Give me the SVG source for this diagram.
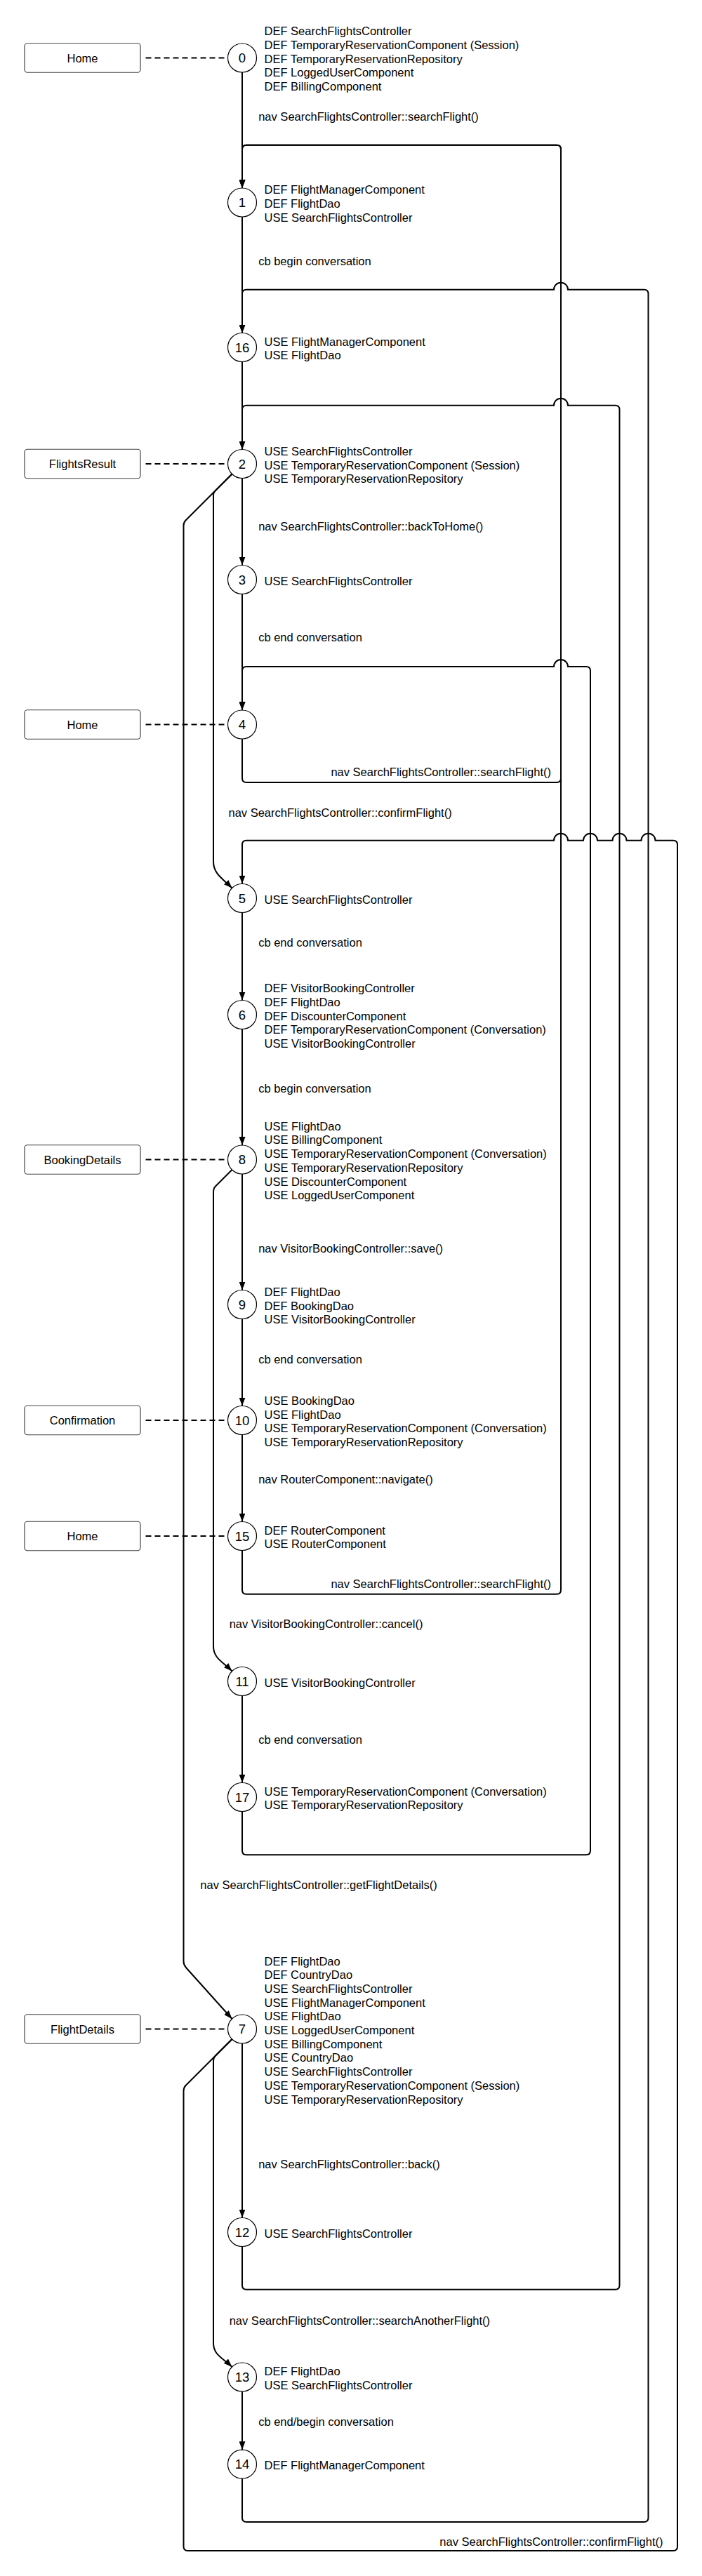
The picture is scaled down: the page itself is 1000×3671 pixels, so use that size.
<svg xmlns="http://www.w3.org/2000/svg" width="1000" height="3671" viewBox="0 0 1000 3671">
<style>
.c{fill:none;stroke:#000;stroke-width:2}
.d{fill:none;stroke:#000;stroke-width:2;stroke-dasharray:8 5}
.n circle{fill:#fff;stroke:#000;stroke-width:1.2}
.b rect{fill:#fff;stroke:#444;stroke-width:1.2}
text{font-family:"Liberation Sans",Arial,Helvetica,sans-serif;font-size:16.5px;fill:#000}
.num{font-size:18.5px;text-anchor:middle}
.bl{text-anchor:middle}
.r{text-anchor:end}
</style>
<defs>
<marker id="a" markerWidth="12" markerHeight="9" refX="12" refY="4.5" orient="auto" markerUnits="userSpaceOnUse"><path d="M0,0 L12,4.5 L0,9 z" fill="#000"/></marker>
</defs>
<rect x="0" y="0" width="1000" height="3671" fill="#fff"/>
<g id="connectors">
<g marker-end="url(#a)" class="c">
<path d="M345,103 L345,268"/>
<path d="M345,309 L345,474.5"/>
<path d="M345,515.5 L345,640.5"/>
<path d="M345,681.5 L345,805.5"/>
<path d="M345,846.5 L345,1012"/>
<path d="M345,1300.5 L345,1425.5"/>
<path d="M345,1466.5 L345,1632"/>
<path d="M345,1673 L345,1838.5"/>
<path d="M345,1879.5 L345,2003.5"/>
<path d="M345,2044.5 L345,2168.5"/>
<path d="M345,2416.5 L345,2540.5"/>
<path d="M345,2912 L345,3160.5"/>
<path d="M345,3408 L345,3491.2"/>
<path d="M345,1053 L345,1109 Q345,1115 351,1115 L793,1115 Q799,1115 799,1109 L799,212.7 Q799,206.7 793,206.7 L351,206.7 Q345,206.7 345,212.7 L345,268"/>
<path d="M345,2209.5 L345,2265.7 Q345,2271.7 351,2271.7 L793,2271.7 Q799,2271.7 799,2265.7 L799,212.7 Q799,206.7 793,206.7 L351,206.7 Q345,206.7 345,212.7 L345,268"/>
<path d="M345,3532.2 L345,3588 Q345,3594 351,3594 L917.5,3594 Q923.5,3594 923.5,3588 L923.5,418.7 Q923.5,412.7 917.5,412.7 L809,412.7 A10,10 0 0 0 789,412.7 L351,412.7 Q345,412.7 345,418.7 L345,474.5"/>
<path d="M345,3201.5 L345,3256.7 Q345,3262.7 351,3262.7 L876.5,3262.7 Q882.5,3262.7 882.5,3256.7 L882.5,583.7 Q882.5,577.7 876.5,577.7 L809,577.7 A10,10 0 0 0 789,577.7 L351,577.7 Q345,577.7 345,583.7 L345,640.5"/>
<path d="M345,2581.5 L345,2637.3 Q345,2643.3 351,2643.3 L835,2643.3 Q841,2643.3 841,2637.3 L841,956 Q841,950 835,950 L809,950 A10,10 0 0 0 789,950 L351,950 Q345,950 345,956 L345,1012"/>
<path d="M330.5,2906 L264.5,2972 Q261.5,2975 261.5,2980 L261.5,3629 Q261.5,3635 267.5,3635 L959,3635 Q965,3635 965,3629 L965,1203.7 Q965,1197.7 959,1197.7 L933.5,1197.7 A10,10 0 0 0 913.5,1197.7 L892.5,1197.7 A10,10 0 0 0 872.5,1197.7 L851,1197.7 A10,10 0 0 0 831,1197.7 L809,1197.7 A10,10 0 0 0 789,1197.7 L351,1197.7 Q345,1197.7 345,1203.7 L345,1259.5"/>
<path d="M330.5,675.5 L306.5,699.5 Q304,702 304,705.5 L304,1228 C304,1245 317,1252 330.5,1265.5"/>
<path d="M330.5,675.5 L264.5,741.5 Q261.5,744.5 261.5,749 L261.5,2795 Q261.5,2800 265,2804 L330.5,2877"/>
<path d="M330.5,1667 L306.5,1691 Q304,1693.5 304,1697.5 L304,2346 C304,2363 317,2368 330.5,2381.5"/>
<path d="M330.5,2906 L306.5,2930 Q304,2932.5 304,2936.5 L304,3339 C304,3356 317,3360 330.5,3373"/>
</g>
<g class="d">
<line x1="207.5" y1="82.5" x2="324.5" y2="82.5"/>
<line x1="207.5" y1="661" x2="324.5" y2="661"/>
<line x1="207.5" y1="1032.5" x2="324.5" y2="1032.5"/>
<line x1="207.5" y1="1652.5" x2="324.5" y2="1652.5"/>
<line x1="207.5" y1="2024" x2="324.5" y2="2024"/>
<line x1="207.5" y1="2189" x2="324.5" y2="2189"/>
<line x1="207.5" y1="2891.5" x2="324.5" y2="2891.5"/>
</g>
<g id="edge-labels">
<text x="368.2" y="171.7">nav SearchFlightsController::searchFlight()</text>
<text x="368.2" y="378.3">cb begin conversation</text>
<text x="368.2" y="756">nav SearchFlightsController::backToHome()</text>
<text x="368.2" y="914">cb end conversation</text>
<text x="785" y="1106" class="r">nav SearchFlightsController::searchFlight()</text>
<text x="325.5" y="1163.7">nav SearchFlightsController::confirmFlight()</text>
<text x="368.2" y="1349.3">cb end conversation</text>
<text x="368.2" y="1556.7">cb begin conversation</text>
<text x="368.2" y="1785">nav VisitorBookingController::save()</text>
<text x="368.2" y="1943.3">cb end conversation</text>
<text x="368.2" y="2114.3">nav RouterComponent::navigate()</text>
<text x="785" y="2262.7" class="r">nav SearchFlightsController::searchFlight()</text>
<text x="326.7" y="2320.3">nav VisitorBookingController::cancel()</text>
<text x="368.2" y="2485.3">cb end conversation</text>
<text x="285.3" y="2692">nav SearchFlightsController::getFlightDetails()</text>
<text x="368.2" y="3090">nav SearchFlightsController::back()</text>
<text x="326.7" y="3312.7">nav SearchFlightsController::searchAnotherFlight()</text>
<text x="368.2" y="3456.7">cb end/begin conversation</text>
<text x="944.5" y="3627.7" class="r">nav SearchFlightsController::confirmFlight()</text>
</g>
</g>
<g id="page-home-0" class="b"><rect x="35" y="61.75" width="165" height="41.5" rx="4"/><text x="117.5" y="88.5" class="bl">Home</text></g>
<g id="page-flightsresult" class="b"><rect x="35" y="640.25" width="165" height="41.5" rx="4"/><text x="117.5" y="667" class="bl">FlightsResult</text></g>
<g id="page-home-4" class="b"><rect x="35" y="1011.75" width="165" height="41.5" rx="4"/><text x="117.5" y="1038.5" class="bl">Home</text></g>
<g id="page-bookingdetails" class="b"><rect x="35" y="1631.75" width="165" height="41.5" rx="4"/><text x="117.5" y="1658.5" class="bl">BookingDetails</text></g>
<g id="page-confirmation" class="b"><rect x="35" y="2003.25" width="165" height="41.5" rx="4"/><text x="117.5" y="2030" class="bl">Confirmation</text></g>
<g id="page-home-15" class="b"><rect x="35" y="2168.25" width="165" height="41.5" rx="4"/><text x="117.5" y="2195" class="bl">Home</text></g>
<g id="page-flightdetails" class="b"><rect x="35" y="2870.75" width="165" height="41.5" rx="4"/><text x="117.5" y="2897.5" class="bl">FlightDetails</text></g>
<g id="node-0" class="n"><circle cx="345" cy="82.5" r="20.5"/><text x="345" y="89" class="num">0</text>
<text x="376.5" y="50.1">DEF SearchFlightsController</text><text x="376.5" y="69.8">DEF TemporaryReservationComponent (Session)</text><text x="376.5" y="89.5">DEF TemporaryReservationRepository</text><text x="376.5" y="109.2">DEF LoggedUserComponent</text><text x="376.5" y="128.9">DEF BillingComponent</text></g>
<g id="node-1" class="n"><circle cx="345" cy="288.5" r="20.5"/><text x="345" y="295" class="num">1</text>
<text x="376.5" y="276.3">DEF FlightManagerComponent</text><text x="376.5" y="296">DEF FlightDao</text><text x="376.5" y="315.7">USE SearchFlightsController</text></g>
<g id="node-16" class="n"><circle cx="345" cy="495" r="20.5"/><text x="345" y="501.5" class="num">16</text>
<text x="376.5" y="492.65">USE FlightManagerComponent</text><text x="376.5" y="512.35">USE FlightDao</text></g>
<g id="node-2" class="n"><circle cx="345" cy="661" r="20.5"/><text x="345" y="667.5" class="num">2</text>
<text x="376.5" y="648.8">USE SearchFlightsController</text><text x="376.5" y="668.5">USE TemporaryReservationComponent (Session)</text><text x="376.5" y="688.2">USE TemporaryReservationRepository</text></g>
<g id="node-3" class="n"><circle cx="345" cy="826" r="20.5"/><text x="345" y="832.5" class="num">3</text>
<text x="376.5" y="833.5">USE SearchFlightsController</text></g>
<g id="node-4" class="n"><circle cx="345" cy="1032.5" r="20.5"/><text x="345" y="1039" class="num">4</text></g>
<g id="node-5" class="n"><circle cx="345" cy="1280" r="20.5"/><text x="345" y="1286.5" class="num">5</text>
<text x="376.5" y="1287.5">USE SearchFlightsController</text></g>
<g id="node-6" class="n"><circle cx="345" cy="1446" r="20.5"/><text x="345" y="1452.5" class="num">6</text>
<text x="376.5" y="1414.1">DEF VisitorBookingController</text><text x="376.5" y="1433.8">DEF FlightDao</text><text x="376.5" y="1453.5">DEF DiscounterComponent</text><text x="376.5" y="1473.2">DEF TemporaryReservationComponent (Conversation)</text><text x="376.5" y="1492.9">USE VisitorBookingController</text></g>
<g id="node-8" class="n"><circle cx="345" cy="1652.5" r="20.5"/><text x="345" y="1659" class="num">8</text>
<text x="376.5" y="1610.75">USE FlightDao</text><text x="376.5" y="1630.45">USE BillingComponent</text><text x="376.5" y="1650.15">USE TemporaryReservationComponent (Conversation)</text><text x="376.5" y="1669.85">USE TemporaryReservationRepository</text><text x="376.5" y="1689.55">USE DiscounterComponent</text><text x="376.5" y="1709.25">USE LoggedUserComponent</text></g>
<g id="node-9" class="n"><circle cx="345" cy="1859" r="20.5"/><text x="345" y="1865.5" class="num">9</text>
<text x="376.5" y="1846.8">DEF FlightDao</text><text x="376.5" y="1866.5">DEF BookingDao</text><text x="376.5" y="1886.2">USE VisitorBookingController</text></g>
<g id="node-10" class="n"><circle cx="345" cy="2024" r="20.5"/><text x="345" y="2030.5" class="num">10</text>
<text x="376.5" y="2001.95">USE BookingDao</text><text x="376.5" y="2021.65">USE FlightDao</text><text x="376.5" y="2041.35">USE TemporaryReservationComponent (Conversation)</text><text x="376.5" y="2061.05">USE TemporaryReservationRepository</text></g>
<g id="node-15" class="n"><circle cx="345" cy="2189" r="20.5"/><text x="345" y="2195.5" class="num">15</text>
<text x="376.5" y="2186.65">DEF RouterComponent</text><text x="376.5" y="2206.35">USE RouterComponent</text></g>
<g id="node-11" class="n"><circle cx="345" cy="2396" r="20.5"/><text x="345" y="2402.5" class="num">11</text>
<text x="376.5" y="2403.5">USE VisitorBookingController</text></g>
<g id="node-17" class="n"><circle cx="345" cy="2561" r="20.5"/><text x="345" y="2567.5" class="num">17</text>
<text x="376.5" y="2558.65">USE TemporaryReservationComponent (Conversation)</text><text x="376.5" y="2578.35">USE TemporaryReservationRepository</text></g>
<g id="node-7" class="n"><circle cx="345" cy="2891.5" r="20.5"/><text x="345" y="2898" class="num">7</text>
<text x="376.5" y="2800.5">DEF FlightDao</text><text x="376.5" y="2820.2">DEF CountryDao</text><text x="376.5" y="2839.9">USE SearchFlightsController</text><text x="376.5" y="2859.6">USE FlightManagerComponent</text><text x="376.5" y="2879.3">USE FlightDao</text><text x="376.5" y="2899">USE LoggedUserComponent</text><text x="376.5" y="2918.7">USE BillingComponent</text><text x="376.5" y="2938.4">USE CountryDao</text><text x="376.5" y="2958.1">USE SearchFlightsController</text><text x="376.5" y="2977.8">USE TemporaryReservationComponent (Session)</text><text x="376.5" y="2997.5">USE TemporaryReservationRepository</text></g>
<g id="node-12" class="n"><circle cx="345" cy="3181" r="20.5"/><text x="345" y="3187.5" class="num">12</text>
<text x="376.5" y="3188.5">USE SearchFlightsController</text></g>
<g id="node-13" class="n"><circle cx="345" cy="3387.5" r="20.5"/><text x="345" y="3394" class="num">13</text>
<text x="376.5" y="3385.15">DEF FlightDao</text><text x="376.5" y="3404.85">USE SearchFlightsController</text></g>
<g id="node-14" class="n"><circle cx="345" cy="3511.7" r="20.5"/><text x="345" y="3518.2" class="num">14</text>
<text x="376.5" y="3519.2">DEF FlightManagerComponent</text></g>
</svg>
